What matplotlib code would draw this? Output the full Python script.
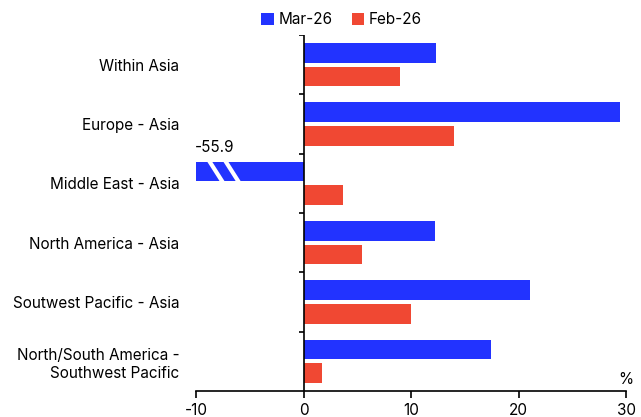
import numpy as np
import matplotlib
matplotlib.use("Agg")
import matplotlib.pyplot as plt

plt.rcParams['font.family'] = ['Inter', 'DejaVu Sans']
plt.rcParams['axes.unicode_minus'] = False

categories = ["Within Asia", "Europe - Asia", "Middle East - Asia",
              "North America - Asia", "Soutwest Pacific - Asia",
              "North/South America -\nSouthwest Pacific"]
mar26 = [12.3, 29.4, -55.9, 12.2, 21.1, 17.4]
feb26 = [9.0, 14.0, 3.7, 5.4, 10.0, 1.7]
series_names = ["Mar-26", "Feb-26"]
xticks = [-10, 0, 10, 20, 30]

BLUE = "#2233FF"
RED = "#F04833"
FS = 11

fig = plt.figure(figsize=(6.41, 4.17), dpi=100)
ax = fig.add_axes([0.3058, 0.0624, 0.6708, 0.8537])

y = np.arange(len(categories))
h = 0.33
off = 0.2
ax.barh(y - off, mar26, height=h, color=BLUE, label=series_names[0])
ax.barh(y + off, feb26, height=h, color=RED, label=series_names[1])

xmin, xmax = xticks[0], xticks[-1]
ax.set_xlim(xmin, xmax)
ax.set_ylim(len(categories) - 0.5, -0.5)

# broken bars (values beyond the left limit)
for i, v in enumerate(mar26):
    if v < xmin:
        top = i - off - h / 2
        bot = i - off + h / 2
        for x0 in (xmin + 1.2, xmin + 2.7):
            ax.plot([x0, x0 + 1.3], [top - 0.02, bot + 0.02], color="white",
                    lw=3, solid_capstyle="butt", clip_on=True)
        ax.annotate(f"{v:.1f}", (xmin, top), xytext=(-1, 5),
                    textcoords="offset points", ha="left", va="bottom",
                    fontsize=FS, annotation_clip=False)

# axes styling
for s in ("top", "right", "left"):
    ax.spines[s].set_visible(False)
ax.spines["bottom"].set_linewidth(1.2)
ax.set_xticks(xticks)
ax.set_xticklabels([str(t) for t in xticks], fontsize=FS)
ax.tick_params(axis="x", length=5, width=1.2, pad=4)

ax.set_yticks(y)
ax.set_yticklabels(categories, fontsize=FS, linespacing=1.3)
ax.tick_params(axis="y", length=0, pad=12)

# y axis line at zero with tick marks at the category boundaries
ax.axvline(0, color="black", lw=1.2, zorder=3)
bounds = np.arange(len(categories)) - 0.5
ax.hlines(bounds, -0.45, 0, color="black", lw=1.2, zorder=3)

ax.text(1.0, 0.012, "%", transform=ax.transAxes, ha="center", va="bottom",
        fontsize=FS)

fig.legend(loc="center", bbox_to_anchor=(0.533, 0.953), ncol=2, frameon=False,
           fontsize=FS, handlelength=0.8, handleheight=0.8,
           handletextpad=0.3, columnspacing=1.3, borderaxespad=0)

fig.savefig("out.png", dpi=100)
